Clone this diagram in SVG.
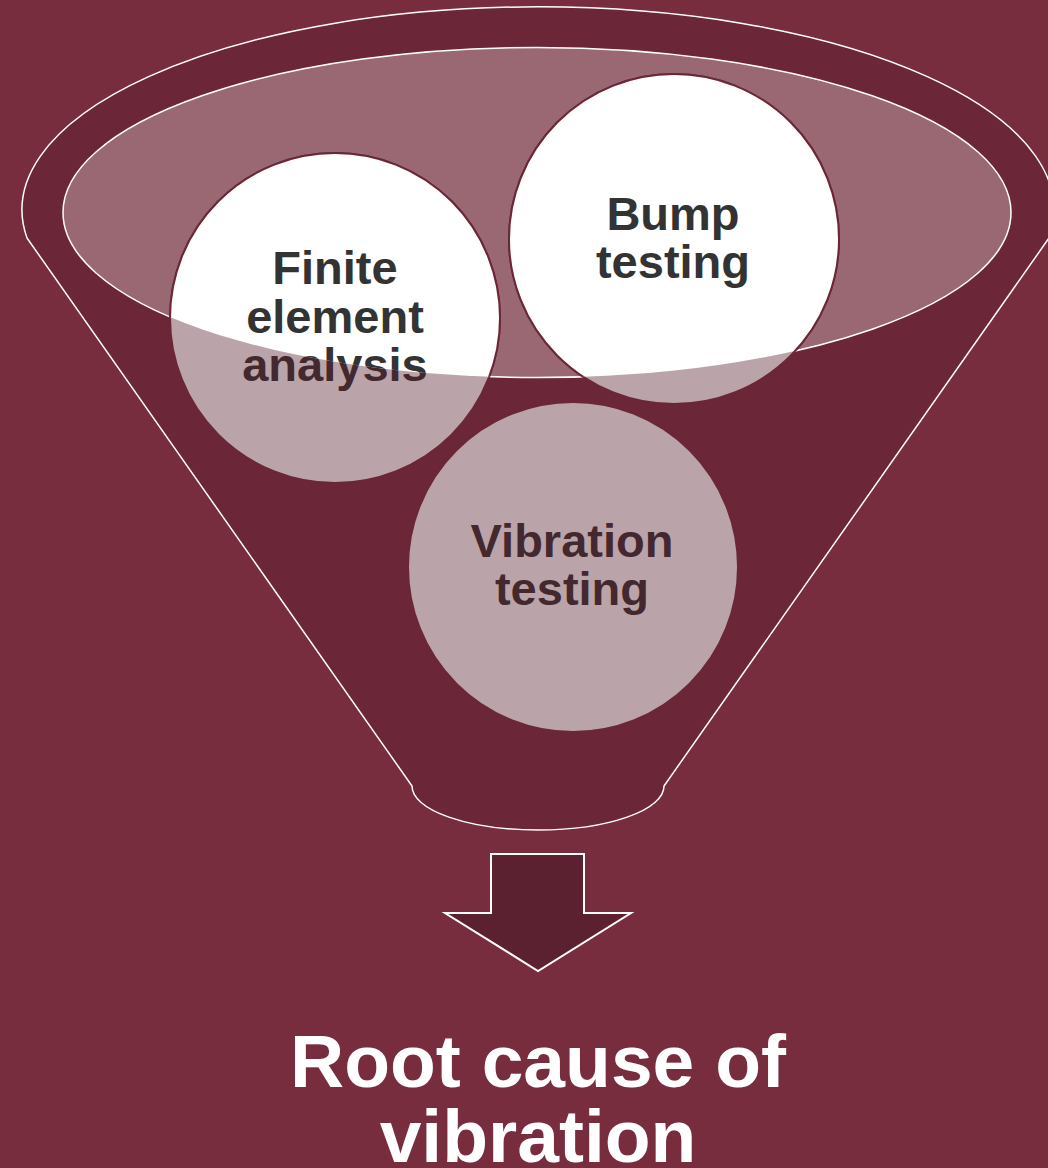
<svg xmlns="http://www.w3.org/2000/svg" width="1048" height="1168" viewBox="0 0 1048 1168">
  <defs>
    <clipPath id="mouth">
      <ellipse cx="537" cy="212.5" rx="474" ry="165"/>
    </clipPath>
    <style>
      .lbl { font-family: "Liberation Sans", Arial, sans-serif; font-weight: bold; font-size: 47px; text-anchor: middle; }
      .dim { fill: #43292F; }
      .dark { fill: #333333; }
      .ball { fill: #BBA4A9; stroke: #6B2737; stroke-width: 2; }
      .ballw { fill: #FFFFFF; stroke: #6B2737; stroke-width: 2; }
      .edge { fill: none; stroke: #FFFFFF; stroke-width: 1.5; }
    </style>
  </defs>
  <rect x="0" y="0" width="1048" height="1168" fill="#782D3F"/>

  <g id="funnel">
    <path d="M 27 238 A 516 203 0 1 1 1049 238 L 664 786 A 126 44 0 0 1 412 786 Z" fill="#6B2737" stroke="#FFFFFF" stroke-width="1.5" stroke-linejoin="round"/>
    <ellipse cx="537" cy="212.5" rx="474" ry="165" fill="#9A6872" stroke="#FFFFFF" stroke-width="1.5"/>
  </g>

  <g id="node-fea">
    <circle class="ball" cx="335" cy="318" r="165"/>
    <text class="lbl dim"><tspan x="335" y="284">Finite</tspan><tspan x="335" y="333">element</tspan><tspan x="335" y="381">analysis</tspan></text>
    <g clip-path="url(#mouth)">
      <circle class="ballw" cx="335" cy="318" r="165"/>
      <text class="lbl dark"><tspan x="335" y="284">Finite</tspan><tspan x="335" y="333">element</tspan><tspan x="335" y="381">analysis</tspan></text>
    </g>
  </g>

  <g id="node-bump">
    <circle class="ball" cx="674" cy="239" r="165"/>
    <g clip-path="url(#mouth)">
      <circle class="ballw" cx="674" cy="239" r="165"/>
      <text class="lbl dark"><tspan x="673" y="230">Bump</tspan><tspan x="673" y="278">testing</tspan></text>
    </g>
  </g>

  <g id="node-vibration">
    <circle class="ball" cx="573" cy="567" r="165"/>
    <text class="lbl dim"><tspan x="572" y="557">Vibration</tspan><tspan x="572" y="605">testing</tspan></text>
  </g>

  <g id="connectors">
    <path d="M 491 854 L 584 854 L 584 913 L 631 913 L 538 971 L 445 913 L 491 913 Z" fill="#5C2130" stroke="#FFFFFF" stroke-width="2" stroke-linejoin="miter"/>
  </g>

  <g id="node-result">
    <text font-family="Liberation Sans, Arial, sans-serif" font-weight="bold" font-size="75" fill="#FFFFFF" text-anchor="middle"><tspan x="538" y="1087">Root cause of</tspan><tspan x="538" y="1162">vibration</tspan></text>
  </g>
</svg>
